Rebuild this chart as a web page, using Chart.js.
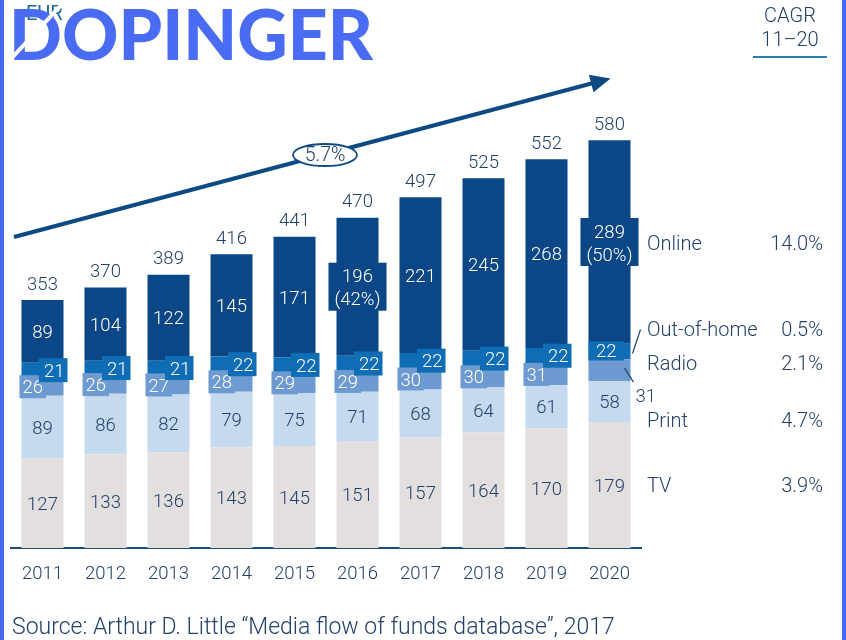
<!DOCTYPE html>
<html>
<head>
<meta charset="utf-8">
<script src="https://cdn.jsdelivr.net/npm/chart.js@4/dist/chart.umd.min.js"></script>
<style>
  html, body { margin: 0; padding: 0; background: #ffffff; }
  #wrap { width: 846px; height: 640px; position: relative; }
</style>
</head>
<body>
<div id="wrap"><canvas id="c" width="846" height="640"></canvas></div>
<script>
// ---- Data ----
const years = ['2011','2012','2013','2014','2015','2016','2017','2018','2019','2020'];
const tv     = [127,133,136,143,145,151,157,164,170,179];
const print  = [89,86,82,79,75,71,68,64,61,58];
const radio  = [26,26,27,28,29,29,30,30,31,31];
const ooh    = [21,21,21,22,22,22,22,22,22,22];
const online = [89,104,122,145,171,196,221,245,268,289];
const totals = [353,370,389,416,441,470,497,525,552,580];
const onlineShare = [null,null,null,null,null,'(42%)',null,null,null,'(50%)'];
const seriesNames = ['TV','Print','Radio','Out-of-home','Online'];
const seriesCagr  = ['3.9%','4.7%','2.1%','0.5%','14.0%'];
const totalCagr = '5.7%';
const cagrTitle = ['CAGR','11\u201320'];
const sourceText = 'Source: Arthur D. Little \u201cMedia flow of funds database\u201d, 2017';

const colors = {
  tv: '#e3dfdf', print: '#c6daef', radio: '#6d9ad0', ooh: '#0e6db5', online: '#0b4787',
  text: '#22416a', frame: '#4669f2'
};
const FONT = "'Roboto', 'Liberation Sans', sans-serif";
const DY = 2; // baseline nudge for middle-aligned text

function font(size, weight) { return (weight || '300') + ' ' + size + 'px ' + FONT; }

const labelPlugin = {
  id: 'labels',
  beforeDraw(chart) {
    const ctx = chart.ctx;
    ctx.save();
    ctx.fillStyle = '#ffffff';
    ctx.fillRect(0, 0, chart.width, chart.height);
    ctx.restore();
  },
  afterDatasetsDraw(chart) {
    const ctx = chart.ctx;
    const T = (s, x, y) => ctx.fillText(s, x, y + DY);
    ctx.save();
    ctx.textAlign = 'center';
    ctx.textBaseline = 'middle';
    const n = years.length;
    const mTV = chart.getDatasetMeta(0), mPr = chart.getDatasetMeta(1), mRa = chart.getDatasetMeta(2),
          mOo = chart.getDatasetMeta(3), mOn = chart.getDatasetMeta(4);
    for (let i = 0; i < n; i++) {
      const last = i === n - 1;
      // TV
      let e = mTV.data[i];
      ctx.font = font(18.5); ctx.fillStyle = colors.text;
      T(String(tv[i]), e.x, (e.y + e.base) / 2);
      // Print
      e = mPr.data[i];
      T(String(print[i]), e.x, (e.y + e.base) / 2);
      // Radio
      e = mRa.data[i];
      const rc = (e.y + e.base) / 2;
      const left = e.x - e.width / 2;
      const right = e.x + e.width / 2;
      if (!last) {
        const tw = ctx.measureText(String(radio[i])).width;
        const bw = tw + 6;
        ctx.fillStyle = colors.radio;
        ctx.fillRect(left - 2, rc - 11.5, bw, 23);
        ctx.fillStyle = '#ffffff';
        T(String(radio[i]), left - 2 + bw / 2, rc);
      } else {
        ctx.strokeStyle = colors.text; ctx.lineWidth = 1.2;
        ctx.beginPath(); ctx.moveTo(right - 6, rc - 2); ctx.lineTo(right + 3, rc + 12); ctx.stroke();
        ctx.fillStyle = colors.text; ctx.textAlign = 'left';
        T(String(radio[i]), right + 5, rc + 25);
        ctx.textAlign = 'center';
      }
      // OOH
      e = mOo.data[i];
      const oc = (e.y + e.base) / 2;
      {
        const tw = ctx.measureText(String(ooh[i])).width;
        const bw = tw + 8;
        ctx.fillStyle = colors.ooh;
        let bx = last ? left : right + 4 - bw;
        if (last) { ctx.fillRect(bx, oc - 10, bw + 7, 19); ctx.fillStyle = '#ffffff'; T(String(ooh[i]), bx + (bw + 7) / 2, oc - 1); }
        else { ctx.fillRect(bx, oc - 12, bw, 24); ctx.fillStyle = '#ffffff'; T(String(ooh[i]), bx + bw / 2 + 1, oc); }
        if (last) {
          ctx.strokeStyle = colors.text; ctx.lineWidth = 1.2;
          ctx.beginPath(); ctx.moveTo(right + 2, oc + 2); ctx.lineTo(right + 10, oc - 22); ctx.stroke();
        }
      }
      // Online
      e = mOn.data[i];
      const nc = (e.y + e.base) / 2;
      if (onlineShare[i]) {
        ctx.fillStyle = colors.online;
        const bw = e.width + 16;
        ctx.fillRect(e.x - bw / 2, nc - 24, bw, 48);
        ctx.fillStyle = '#ffffff';
        T(String(online[i]), e.x, nc - 11);
        T(onlineShare[i], e.x, nc + 12);
      } else {
        ctx.fillStyle = '#ffffff';
        T(String(online[i]), e.x, nc);
      }
      // totals
      ctx.fillStyle = colors.text;
      T(String(totals[i]), e.x, e.y - 17);
    }

    // right side series labels
    const eTV = mTV.data[n - 1], eOn = mOn.data[n - 1], eOo = mOo.data[n - 1], eRa = mRa.data[n - 1], ePr = mPr.data[n - 1];
    const ys = [
      (eTV.y + eTV.base) / 2,
      (ePr.y + ePr.base) / 2 + 18,
      (eRa.y + eRa.base) / 2 - 7,
      (eOo.y + eOo.base) / 2 - 23,
      (eOn.y + eOn.base) / 2 + 1
    ];
    ctx.font = font(20);
    ctx.fillStyle = colors.text;
    for (let s = 0; s < 5; s++) {
      ctx.textAlign = 'left';
      T(seriesNames[s], 647, ys[s]);
      ctx.textAlign = 'right';
      T(seriesCagr[s], 823, ys[s]);
    }

    // CAGR header
    ctx.textAlign = 'center';
    T(cagrTitle[0], 790, 15);
    T(cagrTitle[1], 790, 39);
    ctx.strokeStyle = '#2b7ca6'; ctx.lineWidth = 2;
    ctx.beginPath(); ctx.moveTo(753, 57); ctx.lineTo(827, 57); ctx.stroke();

    // growth arrow
    const x0 = 14, y0 = 237, x1 = 597, y1 = 82;
    ctx.strokeStyle = '#0d4a84'; ctx.lineWidth = 4; ctx.lineCap = 'butt';
    ctx.beginPath(); ctx.moveTo(x0, y0); ctx.lineTo(x1, y1); ctx.stroke();
    const ang = Math.atan2(y1 - y0, x1 - x0);
    const tx = x1 + Math.cos(ang) * 14, ty = y1 + Math.sin(ang) * 14;
    ctx.fillStyle = '#0d4a84';
    ctx.beginPath();
    ctx.moveTo(tx, ty);
    ctx.lineTo(tx - Math.cos(ang) * 20 + Math.sin(ang) * 9, ty - Math.sin(ang) * 20 - Math.cos(ang) * 9);
    ctx.lineTo(tx - Math.cos(ang) * 20 - Math.sin(ang) * 9, ty - Math.sin(ang) * 20 + Math.cos(ang) * 9);
    ctx.closePath(); ctx.fill();
    // ellipse
    ctx.fillStyle = '#ffffff'; ctx.strokeStyle = '#0d4a84'; ctx.lineWidth = 1.8;
    ctx.beginPath(); ctx.ellipse(325, 155, 32, 11, 0, 0, Math.PI * 2); ctx.fill(); ctx.stroke();
    ctx.fillStyle = colors.text; ctx.textAlign = 'center';
    ctx.font = font(19.5);
    T(totalCagr, 325, 154);

    // source
    ctx.textAlign = 'left';
    ctx.font = font(23);
    T(sourceText, 12, 626);

    // watermark logo
    ctx.fillStyle = '#1f6c9c';
    ctx.font = font(20, '400');
    T('EUR', 26, 13);
    ctx.fillStyle = '#4a6cf5';
    ctx.font = "900 70px 'Lato', 'DejaVu Sans', sans-serif";
    ctx.textBaseline = 'alphabetic';
    ctx.fillText('DOPINGER', 9, 60, 364);
    ctx.strokeStyle = '#ffffff'; ctx.lineWidth = 4;
    ctx.beginPath(); ctx.moveTo(8, 62); ctx.lineTo(66, 0); ctx.stroke();

    // frame
    ctx.fillStyle = colors.frame;
    ctx.fillRect(0, 0, 4, 640);
    ctx.fillRect(842, 0, 4, 640);
    ctx.restore();
  }
};

new Chart(document.getElementById('c'), {
  type: 'bar',
  data: {
    labels: years,
    datasets: [
      { label: seriesNames[0], data: tv, backgroundColor: colors.tv },
      { label: seriesNames[1], data: print, backgroundColor: colors.print },
      { label: seriesNames[2], data: radio, backgroundColor: colors.radio },
      { label: seriesNames[3], data: ooh, backgroundColor: colors.ooh },
      { label: seriesNames[4], data: online, backgroundColor: colors.online }
    ]
  },
  options: {
    responsive: false,
    animation: false,
    devicePixelRatio: 1,
    layout: { padding: { left: 11, right: 205, top: 55, bottom: 52 } },
    datasets: { bar: { categoryPercentage: 1, barPercentage: 0.667, borderWidth: 0 } },
    plugins: { legend: { display: false }, tooltip: { enabled: false } },
    scales: {
      x: {
        stacked: true,
        grid: { display: false, drawTicks: false },
        border: { display: true, color: '#1d4f7a', width: 2 },
        ticks: { color: colors.text, font: { family: FONT, size: 18.5, weight: '300' }, padding: 15 },
        afterFit(scale) { scale.height = 40; }
      },
      y: { stacked: true, display: false, min: 0, max: 700 }
    }
  },
  plugins: [labelPlugin]
});
</script>
</body>
</html>
